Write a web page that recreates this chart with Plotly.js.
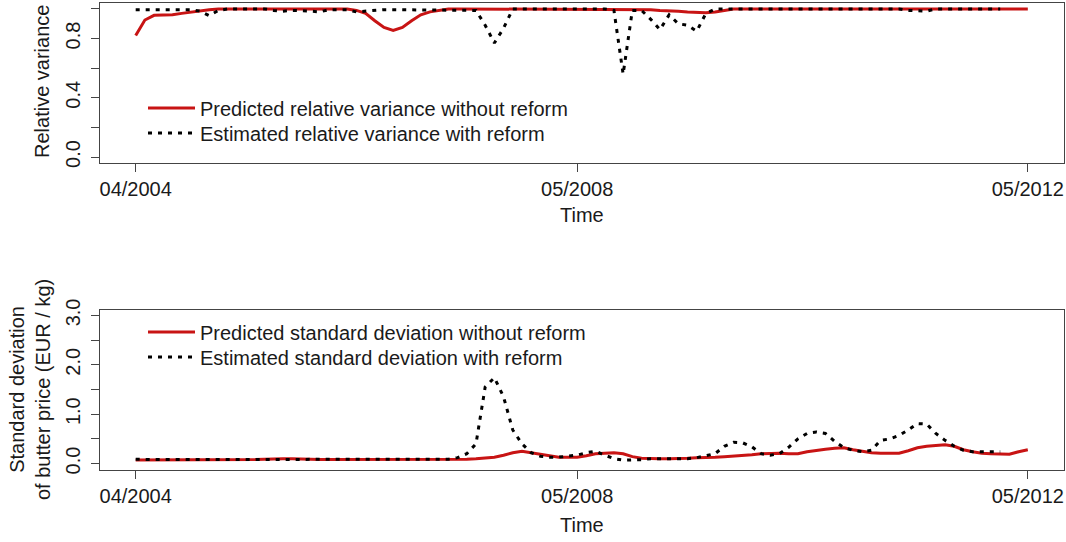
<!DOCTYPE html>
<html>
<head>
<meta charset="utf-8">
<script src="https://cdn.plot.ly/plotly-3.0.1.min.js"></script>
<style>
  html, body { margin: 0; padding: 0; background: #ffffff; }
  #chart { width: 1066px; height: 542px; }
</style>
</head>
<body>
<div id="chart"></div>
<script>
// Tick labels (months from 04/2004 to 05/2012, index-based)
const tickPositions = [0, 48, 97];
const tickLabels = ['04/2004', '05/2008', '05/2012'];

// Relative variance without reform (predicted), monthly, 98 points
const relVarPredicted = [
  0.82, 0.925, 0.957, 0.957, 0.96, 0.97, 0.98, 0.99, 0.995, 1.0,
  1.0, 1.0, 1.0, 1.0, 1.0, 1.0, 1.0, 1.0, 1.0, 1.0,
  1.0, 1.0, 1.0, 1.0, 0.99, 0.97, 0.92, 0.875, 0.855, 0.875,
  0.92, 0.96, 0.98, 0.99, 1.0, 1.0, 1.0, 1.0, 1.0, 1.0,
  1.0, 1.0, 1.0, 1.0, 1.0, 1.0, 1.0, 1.0, 1.0, 1.0,
  1.0, 1.0, 0.995, 0.995, 1.0, 1.0, 0.995, 0.99, 0.99, 0.985,
  0.98, 0.975, 0.975, 0.98, 0.99, 1.0, 1.0, 1.0, 1.0, 1.0,
  1.0, 1.0, 1.0, 1.0, 1.0, 1.0, 1.0, 1.0, 1.0, 1.0,
  1.0, 1.0, 1.0, 1.0, 1.0, 1.0, 1.0, 1.0, 1.0, 1.0,
  1.0, 1.0, 1.0, 1.0, 1.0, 1.0, 1.0, 1.0
];

// Relative variance with reform (estimated), 95 points
const relVarEstimated = [
  0.995, 0.995, 0.995, 0.995, 0.995, 0.995, 0.995, 0.985, 0.955, 0.99,
  1.0, 1.0, 1.0, 1.0, 1.0, 0.99, 0.985, 0.99, 0.99, 0.985,
  0.98, 0.995, 0.995, 0.995, 0.98, 0.985, 0.995, 0.995, 0.995, 0.995,
  0.995, 0.995, 0.995, 0.995, 0.995, 0.995, 0.995, 0.99, 0.89, 0.77,
  0.87, 1.0, 1.0, 1.0, 1.0, 1.0, 1.0, 1.0, 1.0, 1.0,
  1.0, 1.0, 0.99, 0.56, 0.99, 0.99, 0.93, 0.86, 0.96, 0.90,
  0.89, 0.85, 0.97, 1.0, 1.0, 1.0, 1.0, 1.0, 1.0, 1.0,
  1.0, 1.0, 1.0, 1.0, 1.0, 1.0, 1.0, 1.0, 1.0, 1.0,
  1.0, 1.0, 1.0, 1.0, 0.99, 0.985, 0.985, 1.0, 1.0, 1.0,
  1.0, 1.0, 1.0, 1.0, 1.0
];

// Standard deviation of butter price without reform (predicted), 98 points
const sdPredicted = [
  0.07, 0.07, 0.08, 0.08, 0.08, 0.08, 0.08, 0.08, 0.08, 0.08,
  0.08, 0.08, 0.08, 0.08, 0.09, 0.10, 0.10, 0.10, 0.10, 0.09,
  0.08, 0.08, 0.08, 0.08, 0.08, 0.08, 0.08, 0.08, 0.08, 0.08,
  0.08, 0.08, 0.08, 0.08, 0.08, 0.08, 0.09, 0.10, 0.11, 0.13,
  0.17, 0.22, 0.25, 0.22, 0.19, 0.15, 0.13, 0.13, 0.13, 0.16,
  0.20, 0.21, 0.22, 0.20, 0.14, 0.11, 0.10, 0.10, 0.10, 0.10,
  0.11, 0.12, 0.12, 0.13, 0.14, 0.15, 0.16, 0.18, 0.20, 0.21,
  0.21, 0.20, 0.20, 0.24, 0.27, 0.29, 0.31, 0.32, 0.28, 0.25,
  0.22, 0.21, 0.21, 0.21, 0.26, 0.32, 0.35, 0.36, 0.38, 0.35,
  0.28, 0.24, 0.21, 0.20, 0.19, 0.19, 0.24, 0.28
];

// Standard deviation of butter price with reform (estimated), 95 points
const sdEstimated = [
  0.09, 0.08, 0.08, 0.08, 0.08, 0.08, 0.08, 0.08, 0.08, 0.08,
  0.08, 0.08, 0.08, 0.08, 0.08, 0.08, 0.08, 0.08, 0.08, 0.08,
  0.08, 0.08, 0.08, 0.08, 0.08, 0.08, 0.08, 0.08, 0.08, 0.08,
  0.08, 0.08, 0.08, 0.08, 0.09, 0.12, 0.20, 0.40, 1.55, 1.74,
  1.35, 0.68, 0.40, 0.22, 0.15, 0.13, 0.13, 0.15, 0.17, 0.22,
  0.25, 0.17, 0.10, 0.07, 0.07, 0.08, 0.10, 0.10, 0.10, 0.10,
  0.10, 0.12, 0.16, 0.20, 0.35, 0.43, 0.42, 0.34, 0.20, 0.17,
  0.20, 0.33, 0.50, 0.61, 0.64, 0.61, 0.45, 0.32, 0.27, 0.24,
  0.27, 0.47, 0.50, 0.57, 0.68, 0.81, 0.80, 0.61, 0.47, 0.35,
  0.27, 0.24, 0.24, 0.24, 0.24
];

const idx = n => Array.from({length: n}, (_, i) => i);

const RED = '#c81414';
const FONT = 'Liberation Sans, Arial, sans-serif';
const FS = 20;
const TXT = '#1a1a1a';
const AX = '#444444';
const DOT = '4px,6px';

const traces = [
  {x: idx(relVarPredicted.length), y: relVarPredicted, type: 'scatter', mode: 'lines',
   name: 'Predicted relative variance without reform', line: {color: RED, width: 3},
   xaxis: 'x', yaxis: 'y', legend: 'legend'},
  {x: idx(relVarEstimated.length), y: relVarEstimated, type: 'scatter', mode: 'lines',
   name: 'Estimated relative variance with reform', line: {color: '#000000', width: 3, dash: DOT},
   xaxis: 'x', yaxis: 'y', legend: 'legend2'},
  {x: idx(sdPredicted.length), y: sdPredicted, type: 'scatter', mode: 'lines',
   name: 'Predicted standard deviation without reform', line: {color: RED, width: 3},
   xaxis: 'x2', yaxis: 'y2', legend: 'legend3'},
  {x: idx(sdEstimated.length), y: sdEstimated, type: 'scatter', mode: 'lines',
   name: 'Estimated standard deviation with reform', line: {color: '#000000', width: 3, dash: DOT},
   xaxis: 'x2', yaxis: 'y2', legend: 'legend4'}
];

const W = 1066, H = 542;
const xDom = [100 / W, 1063.5 / W];
const topDom = [1 - 163 / H, 1 - 3 / H];
const botDom = [1 - 469.5 / H, 1 - 309.5 / H];
const nMax = 97;
const xRange = [-0.04 * nMax, nMax * 1.04];

const xCommon = {
  range: xRange, tickmode: 'array', tickvals: tickPositions, ticktext: tickLabels,
  ticks: 'outside', ticklen: 8, tickwidth: 1, tickcolor: AX,
  showline: true, linecolor: AX, linewidth: 1, mirror: true,
  showgrid: false, zeroline: false,
  tickfont: {family: FONT, size: FS, color: TXT}
};
const yCommon = {
  ticks: 'outside', ticklen: 8, tickwidth: 1, tickcolor: AX,
  showline: true, linecolor: AX, linewidth: 1, mirror: true,
  showgrid: false, zeroline: false, tickangle: -90, ticklabelstandoff: 3,
  tickfont: {family: FONT, size: FS, color: TXT}
};

const legendCommon = {
  bgcolor: 'rgba(0,0,0,0)', borderwidth: 0,
  font: {family: FONT, size: FS, color: TXT},
  xanchor: 'left', yanchor: 'middle', itemwidth: 47
};
const legX = 143 / W;

const layout = {
  width: W, height: H,
  margin: {l: 0, r: 0, t: 0, b: 0},
  paper_bgcolor: '#ffffff', plot_bgcolor: '#ffffff',
  showlegend: true,
  xaxis: Object.assign({}, xCommon, {domain: xDom, anchor: 'y'}),
  yaxis: Object.assign({}, yCommon, {domain: topDom, anchor: 'x',
    range: [-0.04, 1.04], tickmode: 'array',
    tickvals: [0, 0.2, 0.4, 0.6, 0.8, 1.0], ticktext: ['0.0', '', '0.4', '', '0.8', '']}),
  xaxis2: Object.assign({}, xCommon, {domain: xDom, anchor: 'y2'}),
  yaxis2: Object.assign({}, yCommon, {domain: botDom, anchor: 'x2',
    range: [-0.12, 3.12], tickmode: 'array',
    tickvals: [0, 0.5, 1, 1.5, 2, 2.5, 3], ticktext: ['0.0', '', '1.0', '', '2.0', '', '3.0']}),
  legend: Object.assign({}, legendCommon, {x: legX, y: 1 - 108 / H}),
  legend2: Object.assign({}, legendCommon, {x: legX, y: 1 - 133 / H}),
  legend3: Object.assign({}, legendCommon, {x: legX, y: 1 - 332 / H}),
  legend4: Object.assign({}, legendCommon, {x: legX, y: 1 - 357 / H}),
  annotations: [
    {text: 'Time', xref: 'paper', yref: 'paper', x: 582 / W, y: 1 - 215 / H,
     xanchor: 'center', yanchor: 'middle', showarrow: false,
     font: {family: FONT, size: FS, color: TXT}},
    {text: 'Time', xref: 'paper', yref: 'paper', x: 582 / W, y: 1 - 525 / H,
     xanchor: 'center', yanchor: 'middle', showarrow: false,
     font: {family: FONT, size: FS, color: TXT}},
    {text: 'Relative variance', xref: 'paper', yref: 'paper', x: 42 / W, y: 1 - 82 / H,
     xanchor: 'center', yanchor: 'middle', showarrow: false, textangle: -90,
     font: {family: FONT, size: FS, color: TXT}},
    {text: 'Standard deviation<br>of butter price (EUR / kg)', xref: 'paper', yref: 'paper',
     x: 30 / W, y: 1 - 390 / H,
     xanchor: 'center', yanchor: 'middle', showarrow: false, textangle: -90,
     font: {family: FONT, size: FS, color: TXT}}
  ]
};

Plotly.newPlot('chart', traces, layout, {staticPlot: true, displayModeBar: false});
</script>
</body>
</html>
